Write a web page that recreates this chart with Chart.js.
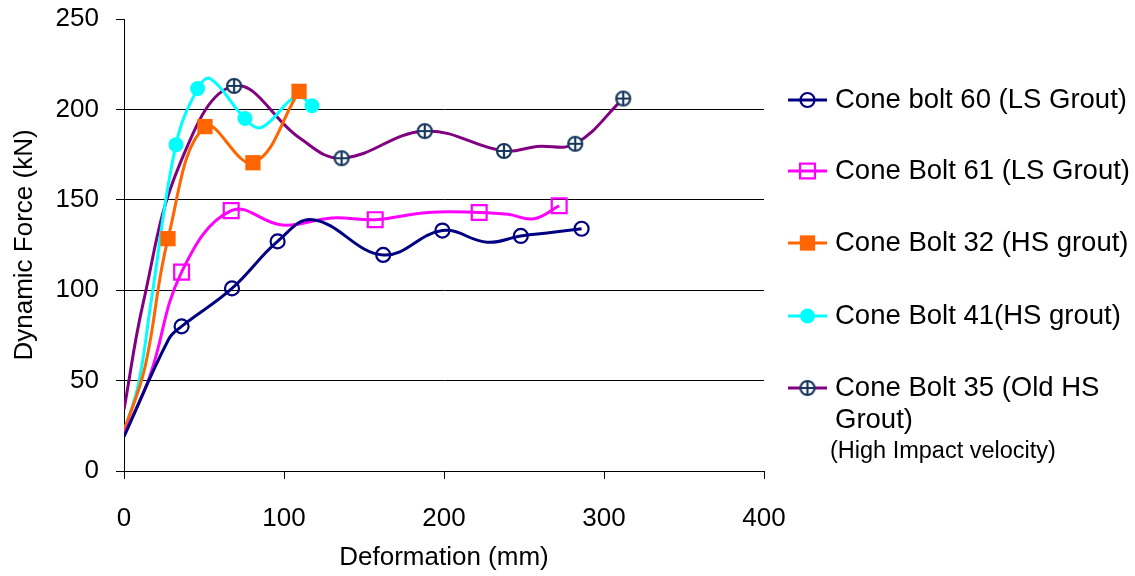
<!DOCTYPE html>
<html>
<head>
<meta charset="utf-8">
<script src="https://cdn.jsdelivr.net/npm/chart.js@4.4.1/dist/chart.umd.min.js"></script>
<style>
  html, body { margin: 0; padding: 0; background: #fff; }
  #c { display: block; }
</style>
</head>
<body>
<canvas id="c" width="1135" height="576"></canvas>
<script>
// 축 눈금
const xTickValues = [0, 100, 200, 300, 400];
const yTickValues = [0, 50, 100, 150, 200, 250];

// Cone bolt 60 (LS Grout) — mark: 1 = 마커 있는 점
const cb60X = [0, 28, 36, 67.5, 96, 118, 162, 199, 227, 248, 268, 286];
const cb60Y = [19, 73, 80, 101, 127, 139, 119.5, 133, 126.5, 130, 132, 134];
const cb60Mark = [0, 0, 1, 1, 1, 0, 1, 1, 0, 1, 0, 1];

// Cone Bolt 61 (LS Grout)
const cb61X = [0, 16, 36, 67, 99, 130, 157, 190, 222, 240, 256, 272];
const cb61Y = [20, 52, 110, 144, 136, 140, 139, 143, 143, 142, 139.5, 146.7];
const cb61Mark = [0, 0, 1, 1, 0, 0, 1, 0, 1, 0, 0, 1];

// Cone Bolt 32 (HS grout)
const cb32X = [0, 13, 27.5, 50.6, 80.6, 109.4];
const cb32Y = [22, 57, 128.5, 190.5, 170.5, 210];
const cb32Mark = [0, 0, 1, 1, 1, 1];

// Cone Bolt 41 (HS grout)
const cb41X = [0, 9, 17, 32.5, 46, 54, 75.6, 86, 108, 117.5];
const cb41Y = [22, 48, 94, 180.5, 211.5, 217, 195, 190, 207.5, 202];
const cb41Mark = [0, 0, 0, 1, 1, 0, 1, 0, 0, 1];

// Cone Bolt 35 (Old HS Grout)
const cb35X = [0, 12, 35, 68.8, 110, 136, 188, 237.5, 258, 282, 312];
const cb35Y = [34, 93, 170, 213, 184, 173, 188, 177, 179.5, 181, 206];
const cb35Mark = [0, 0, 0, 1, 0, 1, 1, 1, 0, 1, 1];

const FONT = "'Liberation Sans', Arial, sans-serif";

// ⊕ 마커
function circlePlus() {
  const c = document.createElement("canvas");
  c.width = 18; c.height = 18;
  const g = c.getContext("2d");
  g.strokeStyle = "#17375e";
  g.lineWidth = 2.2;
  g.fillStyle = "#fff";
  g.beginPath(); g.arc(9, 9, 7, 0, Math.PI * 2); g.fill(); g.stroke();
  g.beginPath();
  g.moveTo(2, 9); g.lineTo(16, 9);
  g.moveTo(9, 2); g.lineTo(9, 16);
  g.stroke();
  return c;
}

function makeSet(label, xs, ys, marks, st) {
  return {
    label,
    data: xs.map((x, i) => ({ x, y: ys[i] })),
    showLine: true,
    borderColor: st.line,
    borderWidth: 3,
    tension: 0.4,
    pointStyle: st.style,
    pointRadius: marks.map((m) => (m ? st.r : 0)),
    pointHoverRadius: marks.map((m) => (m ? st.r : 0)),
    pointBackgroundColor: st.fill,
    pointBorderColor: st.mark,
    pointBorderWidth: st.bw,
    _legend: st,
  };
}

const styles = [
  { line: "#000080", mark: "#000080", fill: "rgba(0,0,0,0)", style: "circle", r: 7, bw: 2.2 },
  { line: "#ff00ff", mark: "#ff00ff", fill: "rgba(0,0,0,0)", style: "rect", r: 10.5, bw: 2.2 },
  { line: "#ff6600", mark: "#ff6600", fill: "#ff6600", style: "rect", r: 10.8, bw: 0 },
  { line: "#00ffff", mark: "#00ffff", fill: "#00ffff", style: "circle", r: 7.5, bw: 0 },
  { line: "#800080", mark: "#17375e", fill: "#fff", style: circlePlus(), r: 9, bw: 0 },
];

const legendLines = [
  ["Cone bolt 60 (LS Grout)"],
  ["Cone Bolt 61 (LS Grout)"],
  ["Cone Bolt 32 (HS grout)"],
  ["Cone Bolt 41(HS grout)"],
  ["Cone Bolt 35 (Old HS", "Grout)"],
];
const legendNote = "(High Impact velocity)";
const legendY = [100, 171, 243, 316, 388];

// 오른쪽 범례 (여러 줄 지원)
const sideLegend = {
  id: "sideLegend",
  afterDraw(chart) {
    const ctx = chart.ctx;
    ctx.save();
    chart.data.datasets.forEach((ds, i) => {
      const st = ds._legend;
      const y = legendY[i];
      ctx.strokeStyle = st.line;
      ctx.lineWidth = 3;
      ctx.beginPath(); ctx.moveTo(788, y); ctx.lineTo(827, y); ctx.stroke();
      ctx.fillStyle = st.fill;
      ctx.strokeStyle = st.mark;
      ctx.lineWidth = st.bw;
      Chart.helpers.drawPoint(ctx, { pointStyle: st.style, radius: st.r, rotation: 0, borderWidth: st.bw }, 807.5, y);
      ctx.fillStyle = "#000";
      ctx.font = "27.5px " + FONT;
      ctx.textBaseline = "middle";
      ctx.textAlign = "left";
      legendLines[i].forEach((t, k) => ctx.fillText(t, 835, y + k * 32));
    });
    ctx.font = "23.5px " + FONT;
    ctx.fillText(legendNote, 830, 452);
    ctx.restore();
  },
};

Chart.defaults.font.family = FONT;
Chart.defaults.color = "#000";

new Chart(document.getElementById("c").getContext("2d"), {
  type: "scatter",
  data: {
    datasets: [
      makeSet("Cone bolt 60 (LS Grout)", cb60X, cb60Y, cb60Mark, styles[0]),
      makeSet("Cone Bolt 61 (LS Grout)", cb61X, cb61Y, cb61Mark, styles[1]),
      makeSet("Cone Bolt 32 (HS grout)", cb32X, cb32Y, cb32Mark, styles[2]),
      makeSet("Cone Bolt 41(HS grout)", cb41X, cb41Y, cb41Mark, styles[3]),
      makeSet("Cone Bolt 35 (Old HS Grout)", cb35X, cb35Y, cb35Mark, styles[4]),
    ],
  },
  options: {
    responsive: false,
    animation: false,
    layout: { padding: { top: 19, right: 371, bottom: 0, left: 0 } },
    plugins: { legend: { display: false }, tooltip: { enabled: false } },
    scales: {
      x: {
        type: "linear",
        min: 0,
        max: 400,
        afterBuildTicks: (s) => { s.ticks = xTickValues.map((v) => ({ value: v })); },
        afterFit: (s) => { s.height = 105; s.paddingLeft = 0; s.paddingRight = 0; },
        grid: { drawOnChartArea: false, drawTicks: true, tickLength: 8, color: "#000", tickColor: "#000" },
        border: { color: "#000", width: 1 },
        ticks: { font: { size: 26 }, color: "#000", padding: 24, maxRotation: 0 },
        title: { display: true, text: "Deformation (mm)", font: { size: 26 }, color: "#000", padding: { top: 0, bottom: 3 } },
      },
      y: {
        type: "linear",
        min: 0,
        max: 250,
        afterBuildTicks: (s) => { s.ticks = yTickValues.map((v) => ({ value: v })); },
        afterFit: (s) => { s.width = 124; s.paddingTop = 0; s.paddingBottom = 0; },
        grid: {
          drawTicks: true,
          tickLength: 8,
          color: (c) => (c.tick && c.tick.value === 250 ? "rgba(0,0,0,0)" : "#000"),
          tickColor: "#000",
        },
        border: { color: "#000", width: 1 },
        ticks: { font: { size: 26 }, color: "#000", padding: 17 },
        title: { display: true, text: "Dynamic Force (kN)", font: { size: 26 }, color: "#000", padding: { top: 9, bottom: 0 } },
      },
    },
  },
  plugins: [sideLegend],
});
</script>
</body>
</html>
